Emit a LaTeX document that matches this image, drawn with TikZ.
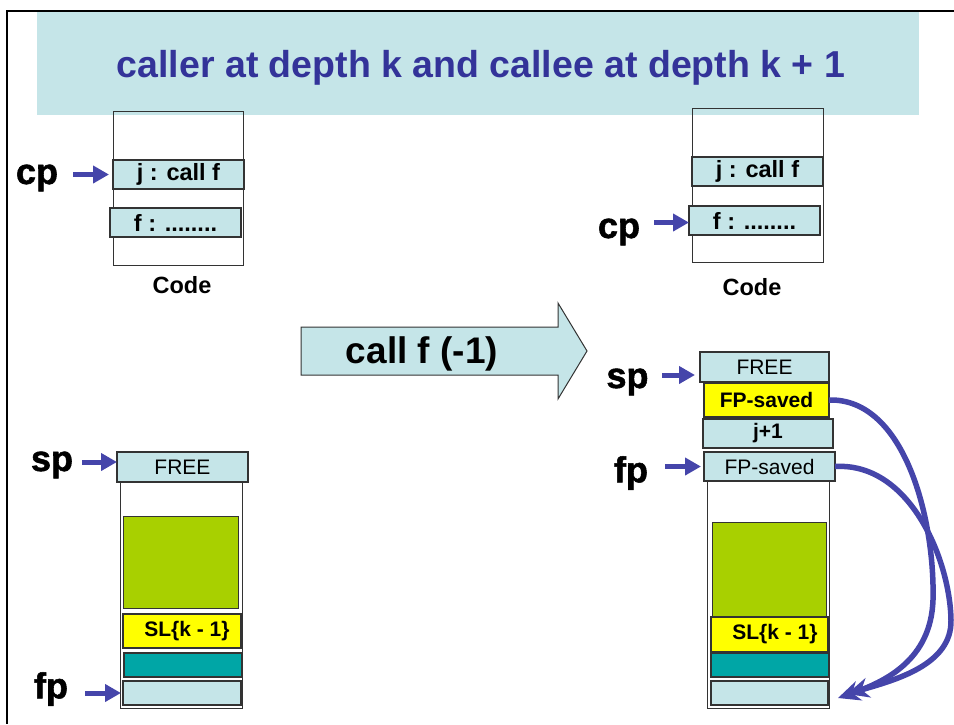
\documentclass[tikz,border=0pt]{standalone}
\usepackage{fontspec}
\setmainfont{Liberation Sans}
\newfontfamily\heavyfont[FakeBold=1.5]{Liberation Sans Bold}
\usetikzlibrary{arrows.meta}
\definecolor{lightc}{HTML}{C5E5E8}
\definecolor{titleblue}{HTML}{333399}
\definecolor{arrblue}{HTML}{4545AA}
\definecolor{greenc}{HTML}{A8D000}
\definecolor{yellowc}{HTML}{FFFF00}
\definecolor{tealc}{HTML}{00A6A6}
\definecolor{edgec}{HTML}{333333}
\begin{document}
\begin{tikzpicture}[x=1pt,y=-1pt,
  cell/.style={draw=edgec,line width=1.1pt,inner sep=0pt,outer sep=0pt,font=\fontsize{21}{23}\selectfont},
  lbox/.style={cell,fill=lightc},
  ybox/.style={cell,fill=yellowc},
  gbox/.style={cell,fill=greenc,draw=edgec,line width=0.8pt},
  tbox/.style={cell,fill=tealc},
  codebox/.style={lbox,minimum width=131pt,minimum height=29pt,font=\fontsize{23.5}{25}\selectfont\bfseries},
  frame/.style={draw=edgec,line width=0.9pt,inner sep=0pt,outer sep=0pt},
  ptr/.style={font=\fontsize{36}{38}\heavyfont,inner sep=0pt},
  ptrarrow/.style={draw=arrblue,line width=5pt,-{Triangle[length=16pt,width=17pt]}},
  link/.style={draw=arrblue,line width=5.5pt,-{Stealth[length=22pt,width=20pt,inset=7pt]}},
  lbl/.style={font=\fontsize{21}{23}\selectfont\bfseries,inner sep=0pt},
  codelbl/.style={font=\fontsize{23.5}{25}\selectfont\bfseries,inner sep=0pt,anchor=base}
]
\useasboundingbox (0,0) rectangle (954,724);
% border
\draw[line width=2.2pt] (954,11) -- (7,11) -- (7,724);
% title band
\fill[lightc] (37,12) rectangle (919,115);
\node[font=\fontsize{37.5}{40}\selectfont\bfseries,text=titleblue,inner sep=0pt,anchor=base] (title) at (481,77) {caller at depth k and callee at depth k + 1};

% left code
\node[frame,minimum width=130pt,minimum height=154pt] (codeL) at (178,188) {};
\node[codebox] (jL) at (178.5,174.5) {j : call f};
\node[codebox] (fL) at (175.5,222.5) {f : ........};
\node[codelbl] (codeLlbl) at (182,293) {Code};
\node[ptr] (cpL) at (37,178) {cp};
\coordinate (cpLs) at ([xshift=-40pt]jL.west);
\draw[ptrarrow] (cpLs) -- ([xshift=-4pt]jL.west);

% right code
\node[frame,minimum width=131pt,minimum height=154pt] (codeR) at (757.5,185) {};
\node[codebox] (jR) at (757.5,171.5) {j : call f};
\node[codebox] (fR) at (754.5,220.5) {f : ........};
\node[codelbl] (codeRlbl) at (752,295) {Code};
\node[ptr] (cpR) at (619,232) {cp};
\coordinate (cpRs) at ([xshift=-35pt,yshift=-2pt]fR.west);
\draw[ptrarrow] (cpRs) -- ([yshift=-2pt]fR.west);

% big arrow
\draw[fill=lightc,draw=edgec,line width=1pt] (301,327) -- (558,327) -- (558,303) -- (587,351) -- (558,399) -- (558,375) -- (301,375) -- cycle;
\node[font=\fontsize{37}{39}\selectfont\bfseries,inner sep=0pt,anchor=base] (callf) at (422,363) {call f (-1)};

% left stack
\node[frame,minimum width=122pt,minimum height=226pt] (stackL) at (181,595) {};
\node[lbox,minimum width=131pt,minimum height=30pt] (freeL) at (182.5,467) {FREE};
\node[gbox,minimum width=115pt,minimum height=92pt] (greenL) at (180.5,562) {};
\node[ybox,minimum width=118pt,minimum height=34pt] (slL) at (182,631) {};
\node[lbl] (slLt) at (187,631) {SL\{k - 1\}};
\node[tbox,minimum width=118pt,minimum height=24pt] (tealL) at (183,665) {};
\node[lbox,minimum width=118pt,minimum height=24pt] (lightL) at (182,693) {};
\node[ptr] (spL) at (52,465) {sp};
\coordinate (spLs) at ([xshift=-35pt,yshift=5pt]freeL.west);
\draw[ptrarrow] (spLs) -- ([yshift=5pt]freeL.west);
\node[ptr] (fpL) at (51,689) {fp};
\coordinate (fpLs) at ([xshift=-38pt]lightL.west);
\draw[ptrarrow] (fpLs) -- ([xshift=-2pt]lightL.west);

% right stack
\node[frame,minimum width=122pt,minimum height=227pt] (stackR) at (768,594.5) {};
\node[lbox,minimum width=129pt,minimum height=30pt] (freeR) at (764.5,367) {FREE};
\node[ybox,minimum width=125pt,minimum height=34pt,font=\fontsize{21}{23}\selectfont\bfseries] (fps1) at (766.5,400) {FP-saved};
\node[lbox,minimum width=130pt,minimum height=29pt,font=\fontsize{21}{23}\selectfont\bfseries] (jp1) at (768,433.5) {j+1};
\node[lbox,minimum width=131pt,minimum height=29pt] (fps2) at (769.5,466.5) {FP-saved};
\node[gbox,minimum width=114pt,minimum height=95pt] (greenR) at (769,569.5) {};
\node[ybox,minimum width=117pt,minimum height=35pt] (slR) at (769.5,634.5) {};
\node[lbl] (slRt) at (775,634.5) {SL\{k - 1\}};
\node[tbox,minimum width=118pt,minimum height=24pt] (tealR) at (770,665) {};
\node[lbox,minimum width=117pt,minimum height=24pt] (lightR) at (769.5,693) {};
\node[ptr] (spR) at (627.5,382) {sp};
\coordinate (spRs) at ([xshift=-38pt,yshift=-8pt]freeR.west);
\draw[ptrarrow] (spRs) -- ([xshift=-5pt,yshift=-8pt]freeR.west);
\node[ptr] (fpR) at (631,473) {fp};
\coordinate (fpRs) at ([xshift=-39pt]fps2.west);
\draw[ptrarrow] (fpRs) -- ([xshift=-3pt]fps2.west);

% links
\coordinate (tipA) at (838,698);
\coordinate (tipB) at (847,694);
\draw[link] (fps1.east) .. controls (905,398) and (935,520) .. (933,600) .. controls (931,660) and (885,682) .. (tipA);
\draw[link] (fps2.east) .. controls (910,462) and (950,560) .. (951,620) .. controls (952,665) and (895,680) .. (tipB);
\end{tikzpicture}
\end{document}
